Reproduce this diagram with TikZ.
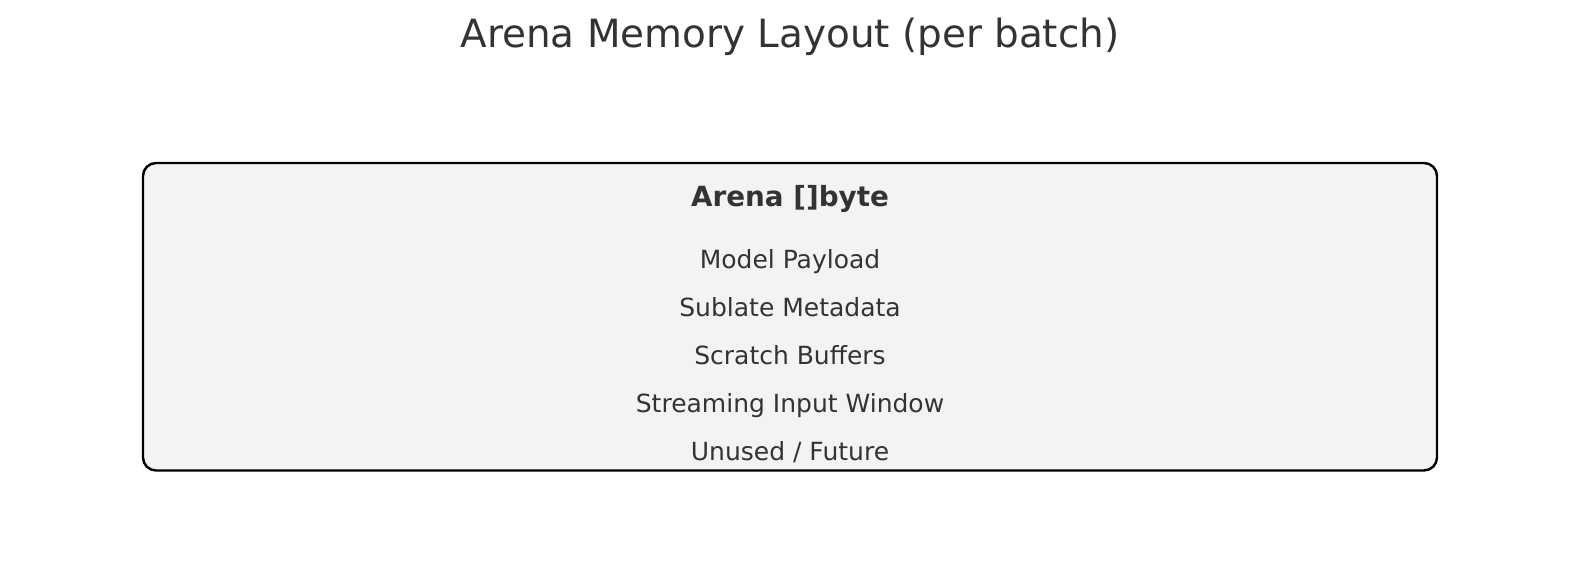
\documentclass[tikz,border=0pt]{standalone}
\usepackage{fontspec}
\setmainfont{DejaVu Sans}
\definecolor{txt}{HTML}{333333}
\definecolor{boxfill}{HTML}{F3F3F3}
\begin{document}
\begin{tikzpicture}[x=1bp,y=1bp,
  item/.style={text=txt,font=\fontsize{25bp}{30bp}\selectfont,inner sep=0pt,anchor=base},
  arena/.style={draw=black,line width=2.4bp,fill=boxfill,rounded corners=13bp}]
\useasboundingbox (0,0) rectangle (1580,579);
\node[item,font=\fontsize{38.9bp}{46bp}\selectfont] (title) at (790,531) {Arena Memory Layout (per batch)};
\draw[arena] (143,108.5) rectangle (1437,416);
\node[item,font=\fontsize{27.8bp}{33bp}\selectfont\bfseries] (head) at (790,372) {Arena []byte};
\node[item] (l1) at (790,310) {Model Payload};
\node[item] (l2) at (790,262) {Sublate Metadata};
\node[item] (l3) at (790,214) {Scratch Buffers};
\node[item] (l4) at (790,166) {Streaming Input Window};
\node[item] (l5) at (790,118) {Unused / Future};
\end{tikzpicture}
\end{document}
